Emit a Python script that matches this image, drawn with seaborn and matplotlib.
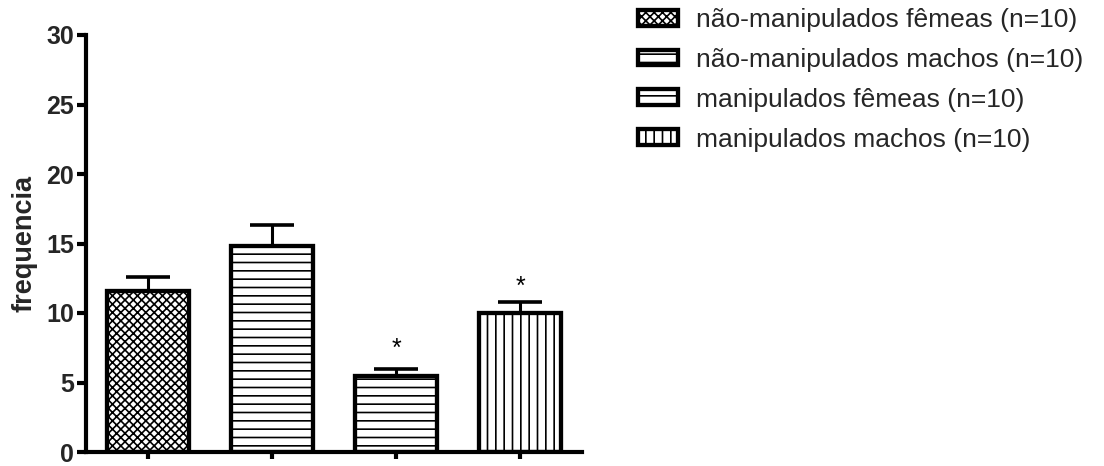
import numpy as np
import pandas as pd
import matplotlib
matplotlib.use("Agg")
import matplotlib.pyplot as plt
import seaborn as sns

# Group means and standard errors
grupos = [
    "não-manipulados fêmeas (n=10)",
    "não-manipulados machos (n=10)",
    "manipulados fêmeas (n=10)",
    "manipulados machos (n=10)",
]
medias = [11.6, 14.8, 5.5, 10.0]
erros = [1.0, 1.5, 0.45, 0.8]
# height of the significance asterisk (None = not significant)
asterisco = [None, None, 6.95, 11.35]
yticks = [0, 5, 10, 15, 20, 25, 30]
hachuras = ["xxxx", "--", "--", "||"]
espessura_hachura = [1.3, 1.2, 1.2, 1.4]

sns.set_theme(style="white")
plt.rcParams["font.family"] = ["Liberation Sans", "DejaVu Sans"]
plt.rcParams["hatch.linewidth"] = 1.2
plt.rcParams["hatch.color"] = "black"

df = pd.DataFrame({"grupo": grupos, "frequencia": medias})

fig = plt.figure(figsize=(11.04, 4.66), dpi=100)
ax = fig.add_axes([86 / 1104, 14 / 466, 496 / 1104, 417 / 466])

sns.barplot(
    data=df, x="grupo", y="frequencia", hue="grupo",
    palette=["white"] * 4, edgecolor="black", linewidth=3.1,
    width=0.66, legend=False, ax=ax, errorbar=None,
)


def com_hachura(draw_original, lw):
    """Draw a patch with its own hatch line width."""
    def draw(renderer):
        with plt.rc_context({"hatch.linewidth": lw}):
            draw_original(renderer)
    return draw


barras = list(ax.patches)
for barra, h, lw in zip(barras, hachuras, espessura_hachura):
    barra.set_hatch(h)
    barra.set_edgecolor("black")
    barra.draw = com_hachura(barra.draw, lw)

# one-sided (upper) error bars
x = np.arange(len(grupos))
ax.errorbar(
    x, medias, yerr=[np.zeros(len(erros)), erros], fmt="none",
    ecolor="black", elinewidth=2.2, capsize=15.5, capthick=2.6, zorder=5,
)

for xi, y_ast in zip(x, asterisco):
    if y_ast is not None:
        ax.text(xi, y_ast, "*", ha="center", va="baseline",
                fontsize=18, color="black")

ax.set_ylim(0, 30)
ax.set_xlim(-0.5, 3.5)
ax.set_yticks(yticks)
ax.set_yticklabels([str(t) for t in yticks], fontsize=18, fontweight="bold")
ax.set_xticks(x)
ax.set_xticklabels([""] * len(x))
ax.set_xlabel("")
ax.set_ylabel("frequencia", fontsize=19.5, fontweight="bold", labelpad=6)

for s in ["top", "right"]:
    ax.spines[s].set_visible(False)
for s in ["left", "bottom"]:
    ax.spines[s].set_linewidth(3)
    ax.spines[s].set_color("black")
ax.tick_params(axis="y", direction="out", length=6.5, width=3, color="black",
               left=True, pad=2)
ax.tick_params(axis="x", direction="out", length=5, width=3, color="black",
               bottom=True)

fig.legend(
    handles=barras, labels=grupos, loc="upper left",
    bbox_to_anchor=(638 / 1104, 1 - 8 / 466), frameon=False,
    fontsize=19, handlelength=1.5, handleheight=0.55, handletextpad=0.7,
    labelspacing=0.6, borderpad=0, borderaxespad=0,
)

fig.savefig("out.png", dpi=100)
